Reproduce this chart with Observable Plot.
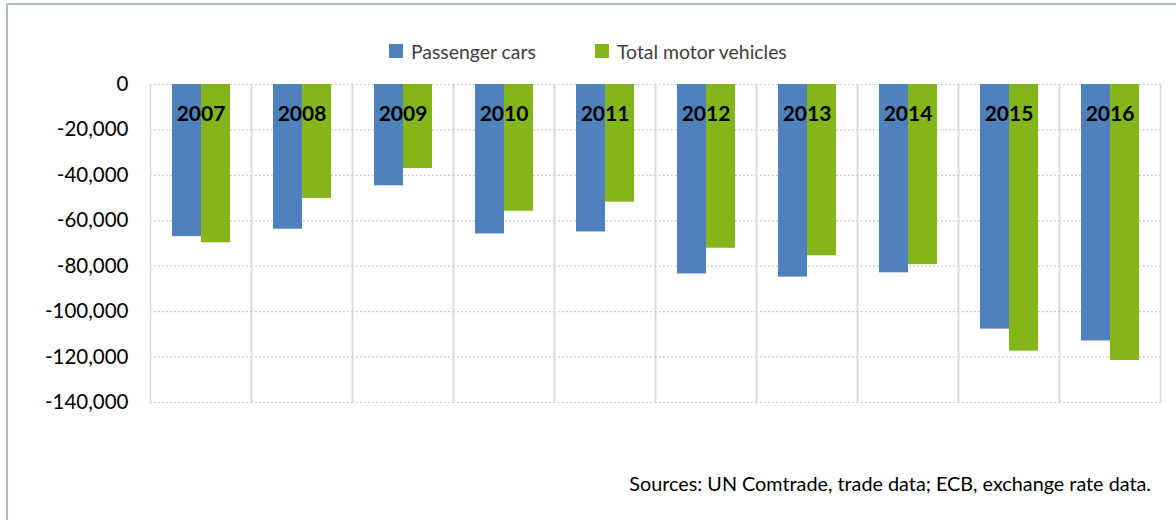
<!DOCTYPE html>
<html>
<head>
<meta charset="utf-8">
<script src="https://cdn.jsdelivr.net/npm/d3@7"></script>
<script src="https://cdn.jsdelivr.net/npm/@observablehq/plot@0.6"></script>
<style>
  html, body { margin: 0; padding: 0; background: #fff; overflow: hidden; }
  body { width: 1176px; height: 520px; position: relative; font-family: Lato, "Open Sans", sans-serif; }
  #border { position: absolute; left: 6px; top: 3px; width: 1200px; height: 560px; border-left: 2px solid #a6c0bd; border-top: 2px solid #a6c0bd; box-sizing: border-box; }
  #legend { position: absolute; left: 0; top: 38px; width: 1176px; height: 26px; font-size: 19.4px; color: #404040; }
  .item { position: absolute; top: 0; display: flex; align-items: center; height: 26px; }
  .sw { width: 14px; height: 14px; margin-right: 8px; }
  #chart { position: absolute; left: 0; top: 64px; }
  #caption { position: absolute; left: 0; top: 471px; width: 1151px; text-align: right; font-size: 19.8px; color: #000; }
</style>
</head>
<body>
<div id="border"></div>
<div id="legend"></div>
<div id="chart"></div>
<div id="caption">Sources: UN Comtrade, trade data; ECB, exchange rate data.</div>
<script>
const years = ["2007","2008","2009","2010","2011","2012","2013","2014","2015","2016"];
const seriesNames = ["Passenger cars", "Total motor vehicles"];
const passengerCars = [-67000, -63700, -44600, -65800, -64900, -83400, -84800, -82900, -107700, -112900];
const totalMotorVehicles = [-69700, -50200, -37000, -55800, -51800, -72100, -75400, -79300, -117400, -121500];
const yTicks = [0, -20000, -40000, -60000, -80000, -100000, -120000, -140000];
const colors = ["#4f81bd", "#84b61b"];

const data = [];
years.forEach((y, i) => {
  data.push({year: y, series: seriesNames[0], value: passengerCars[i]});
  data.push({year: y, series: seriesNames[1], value: totalMotorVehicles[i]});
});

// legend
const legend = document.getElementById("legend");
const legendX = [389, 595];
seriesNames.forEach((s, i) => {
  const it = document.createElement("div");
  it.className = "item";
  it.style.left = legendX[i] + "px";
  it.innerHTML = `<span class="sw" style="background:${colors[i]}"></span><span>${s}</span>`;
  legend.appendChild(it);
});

const chart = Plot.plot({
  width: 1176,
  height: 360,
  marginTop: 20,
  marginBottom: 22,
  marginLeft: 149,
  marginRight: 15,
  style: {fontFamily: "Lato, 'Open Sans', sans-serif", fontSize: "20px", color: "#000", background: "transparent"},
  fx: {domain: years, padding: 0, axis: null},
  x: {domain: seriesNames, paddingInner: 0, paddingOuter: 0.72, axis: null},
  y: {domain: [-140000, 0], axis: null},
  color: {domain: seriesNames, range: colors},
  marks: [
    Plot.ruleY(yTicks, {stroke: "#bcbcbc", strokeWidth: 1.2, strokeDasharray: "1.5,2.5"}),
    Plot.frame({anchor: "left", stroke: "#d9d9d9", strokeWidth: 1.5}),
    Plot.frame({anchor: "right", stroke: "#d9d9d9", strokeWidth: 1.5}),
    Plot.barY(data, {fx: "year", x: "series", y: "value", fill: "series", inset: 0}),
    Plot.text(years, {fx: d => d, y: 0, text: d => d, dy: 30, fontSize: 21, fontWeight: "bold", fill: "#000"}),
    Plot.axisY({ticks: yTicks, tickSize: 0, tickPadding: 22, tickFormat: d => d.toLocaleString("en-US"), fontSize: 20.5, anchor: "left", label: null})
  ]
});
document.getElementById("chart").appendChild(chart);
</script>
</body>
</html>
